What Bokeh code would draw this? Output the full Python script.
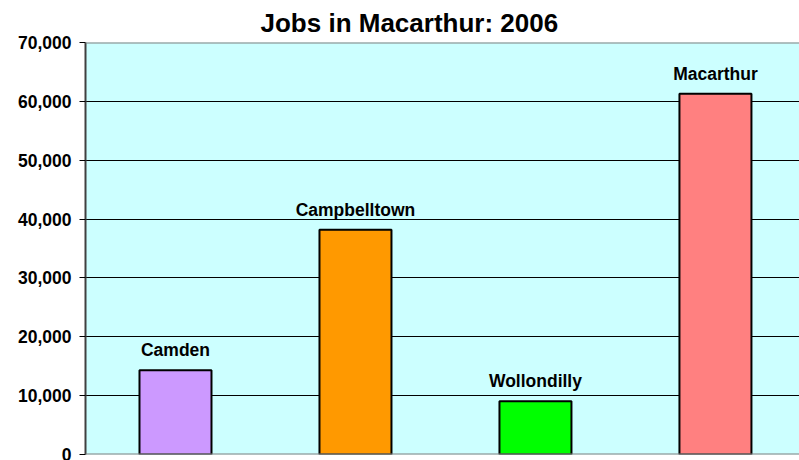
from bokeh.plotting import figure
from bokeh.models import Range1d, FixedTicker, NumeralTickFormatter, Span, ColumnDataSource
from bokeh.embed import file_html
from bokeh.resources import INLINE
from bokeh.core.properties import value

title_text = "Jobs in Macarthur: 2006"
categories = ["Camden", "Campbelltown", "Wollondilly", "Macarthur"]
jobs = [14300, 38200, 9050, 61300]
colors = ["#CC99FF", "#FF9900", "#00FF00", "#FF8080"]
y_ticks = [0, 10000, 20000, 30000, 40000, 50000, 60000, 70000]

FONT = "Liberation Sans"

x_pos = [i + 0.5 for i in range(len(categories))]
src = ColumnDataSource(dict(x=x_pos, top=jobs, color=colors, label=categories))

p = figure(width=799, height=460, output_backend="svg", toolbar_location=None,
           x_range=Range1d(0, 3.967), y_range=Range1d(0, 70000),
           min_border_left=85, min_border_right=0, min_border_bottom=6, min_border_top=0)

p.title.text = title_text
p.title.text_font = FONT
p.title.text_font_size = "26px"
p.title.text_font_style = "bold"
p.title.align = "left"
p.title.offset = 175
p.title.text_color = "black"

p.background_fill_color = "#CCFFFF"
p.border_fill_color = "white"
p.outline_line_color = None

p.xaxis.visible = False
p.xgrid.visible = False

p.yaxis.ticker = FixedTicker(ticks=y_ticks)
p.yaxis.formatter = NumeralTickFormatter(format="0,0")
p.yaxis.major_label_text_font = FONT
p.yaxis.major_label_text_font_size = "17.5px"
p.yaxis.major_label_text_font_style = "bold"
p.yaxis.major_label_text_color = "black"
p.yaxis.major_tick_out = 6
p.yaxis.major_tick_in = 0
p.yaxis.minor_tick_line_color = None
p.yaxis.major_tick_line_color = "black"
p.yaxis.major_label_standoff = 8
p.yaxis.axis_line_color = "#404040"
p.yaxis.axis_line_width = 2

p.ygrid.ticker = FixedTicker(ticks=y_ticks)
p.ygrid.grid_line_color = "black"
p.ygrid.grid_line_width = 1

p.vbar(x="x", top="top", width=0.4, bottom=0, source=src, fill_color="color",
       line_color="black", line_width=2)

p.text(x="x", y="top", text="label", source=src, text_font=value(FONT),
       text_font_size="17.5px", text_font_style="bold", text_color="black",
       text_align="center", text_baseline="alphabetic", y_offset=-20)

p.add_layout(Span(location=70000, dimension="width", line_color="#808080", line_width=2))
p.add_layout(Span(location=0, dimension="width", line_color="#808080", line_width=2))

open("out.html", "w").write(file_html(p, INLINE))
